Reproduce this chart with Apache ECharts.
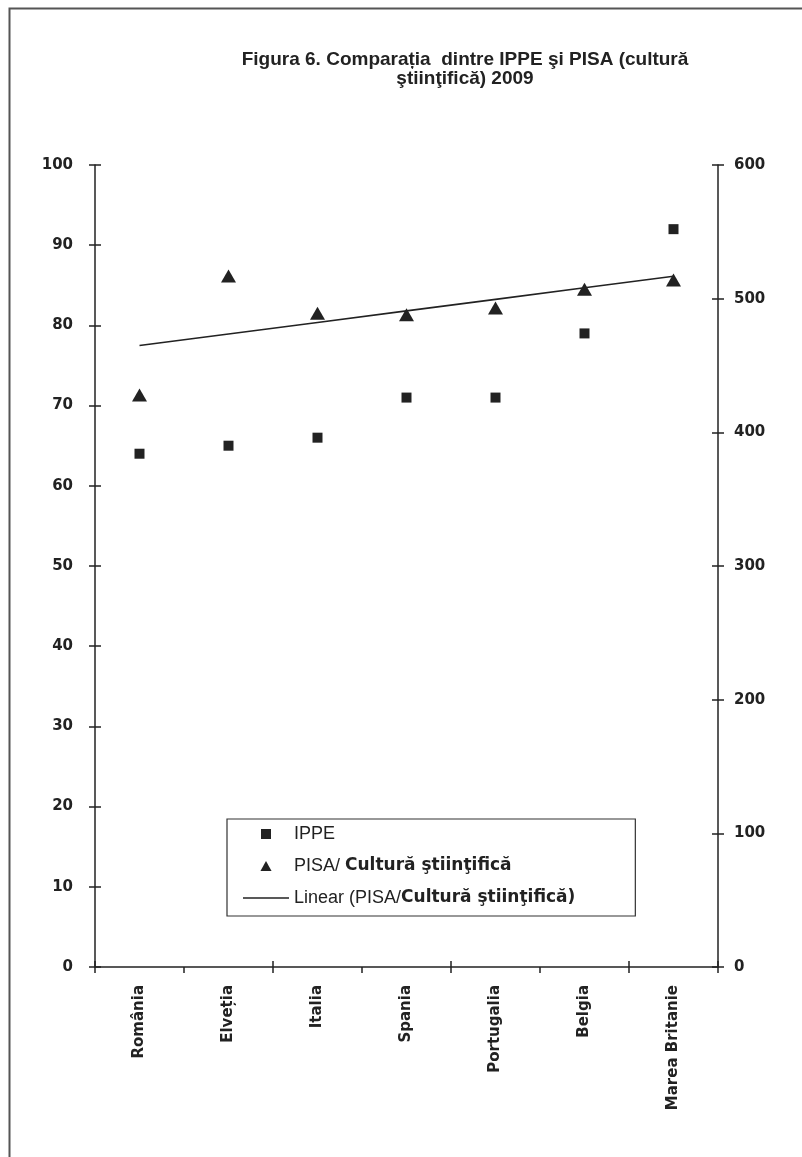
<!DOCTYPE html>
<html>
<head>
<meta charset="utf-8">
<script src="https://cdn.jsdelivr.net/npm/echarts@6/dist/echarts.min.js"></script>
<style>html,body{margin:0;padding:0;background:#fff;}#c{width:802px;height:1157px;}</style>
</head>
<body>
<div id="c"></div>
<script>
// ---- data ----
const categories = ['România', 'Elveția', 'Italia', 'Spania', 'Portugalia', 'Belgia', 'Marea Britanie'];
const ippe = [64, 65, 66, 71, 71, 79, 92];               // left axis
const pisaScience = [428, 517, 489, 488, 493, 507, 514]; // right axis
const leftTicks = {min: 0, max: 100, interval: 10};
const rightTicks = {min: 0, max: 600, interval: 100};

// least-squares linear trendline of the PISA series (Excel "Linear" trendline)
function linearTrend(vals) {
  const n = vals.length;
  let sx = 0, sy = 0, sxy = 0, sxx = 0;
  vals.forEach((v, i) => { const x = i + 1; sx += x; sy += v; sxy += x * v; sxx += x * x; });
  const b = (n * sxy - sx * sy) / (n * sxx - sx * sx);
  const a = (sy - b * sx) / n;
  return vals.map((v, i) => +(a + b * (i + 1)).toFixed(2));
}
const trend = linearTrend(pisaScience);

const INK = '#222';
const FONT = 'DejaVu Sans';
const chart = echarts.init(document.getElementById('c'), null, {renderer: 'canvas'});

const yLabel = {color: INK, fontFamily: FONT, fontWeight: 'bold', fontSize: 15};

chart.setOption({
  animation: false,
  backgroundColor: '#fff',
  graphic: [{
    type: 'rect', left: 7, top: 6, shape: {width: 830, height: 1200},
    style: {fill: 'none', stroke: '#555', lineWidth: 2}, silent: true
  }],
  title: {
    text: 'Figura 6. Comparația  dintre IPPE şi PISA (cultură\nştiinţifică) 2009',
    left: 460, top: 45,
    textAlign: 'center',
    textStyle: {fontFamily: 'Liberation Sans', fontWeight: 'bold', fontSize: 19, color: INK, lineHeight: 19}
  },
  grid: {left: 95, right: 84, top: 165, bottom: 190, containLabel: false},
  legend: {
    orient: 'vertical', left: 227, top: 819,
    padding: [5, 60, 8, 16],
    itemGap: 12,
    itemWidth: 46, itemHeight: 10,
    borderColor: '#333', borderWidth: 1.2,
    symbolKeepAspect: true,
    textStyle: {
      color: INK, fontFamily: 'Liberation Sans', fontSize: 18, lineHeight: 20,
      rich: {
        r: {fontFamily: 'Liberation Sans', fontSize: 18, color: INK, lineHeight: 20},
        b: {fontFamily: 'DejaVu Sans', fontWeight: 'bold', fontSize: 17, color: INK, lineHeight: 20}
      }
    },
    formatter: function (name) {
      if (name === 'IPPE') return '{r|IPPE}';
      if (name === 'PISA/ Cultură ştiinţifică') return '{r|PISA/ }{b|Cultură ştiinţifică}';
      return '{r|Linear (PISA/}{b|Cultură ştiinţifică)}';
    },
    data: [
      {name: 'IPPE', icon: 'path://M0,0L10,0L10,10L0,10Z'},
      {name: 'PISA/ Cultură ştiinţifică', icon: 'path://M5,0L10,9L0,9Z'},
      {name: 'Linear (PISA/Cultură ştiinţifică)', icon: 'path://M0,0L46,0L46,1.6L0,1.6Z'}
    ]
  },
  xAxis: [{
    type: 'category', data: categories, boundaryGap: true, position: 'bottom',
    axisLine: {show: true, lineStyle: {color: INK, width: 1.5}},
    axisTick: {show: true, inside: false, length: 6, alignWithLabel: false, lineStyle: {color: INK, width: 1.5}},
    axisLabel: {rotate: 90, margin: 18, color: INK, fontFamily: FONT, fontWeight: 'bold', fontSize: 15, interval: 0},
    splitLine: {show: false}
  }, {
    type: 'category', data: categories, boundaryGap: true, position: 'bottom',
    axisLine: {show: false},
    axisTick: {show: true, inside: true, length: 6, alignWithLabel: false, lineStyle: {color: INK, width: 1.5}},
    axisLabel: {show: false}, splitLine: {show: false}
  }],
  yAxis: [{
    type: 'value', position: 'left', min: leftTicks.min, max: leftTicks.max, interval: leftTicks.interval,
    axisLine: {show: true, lineStyle: {color: INK, width: 1.5}},
    axisTick: {show: true, length: 6, lineStyle: {color: INK, width: 1.5}},
    axisLabel: Object.assign({margin: 22}, yLabel),
    splitLine: {show: false}
  }, {
    type: 'value', position: 'right', min: rightTicks.min, max: rightTicks.max, interval: rightTicks.interval,
    axisLine: {show: true, lineStyle: {color: INK, width: 1.5}},
    axisTick: {show: true, length: 6, lineStyle: {color: INK, width: 1.5}},
    axisLabel: Object.assign({margin: 16}, yLabel),
    splitLine: {show: false}
  }, {
    type: 'value', position: 'left', min: leftTicks.min, max: leftTicks.max, interval: leftTicks.interval,
    axisLine: {show: false}, axisTick: {show: true, inside: true, length: 6, lineStyle: {color: INK, width: 1.5}},
    axisLabel: {show: false}, splitLine: {show: false}
  }, {
    type: 'value', position: 'right', min: rightTicks.min, max: rightTicks.max, interval: rightTicks.interval,
    axisLine: {show: false}, axisTick: {show: true, inside: true, length: 6, lineStyle: {color: INK, width: 1.5}},
    axisLabel: {show: false}, splitLine: {show: false}
  }],
  series: [{
    name: 'IPPE', type: 'scatter', yAxisIndex: 0, data: ippe,
    symbol: 'rect', symbolSize: 10, itemStyle: {color: INK, opacity: 1}, z: 4
  }, {
    name: 'PISA/ Cultură ştiinţifică', type: 'scatter', yAxisIndex: 1, data: pisaScience,
    symbol: 'triangle', symbolSize: [15, 13], itemStyle: {color: INK, opacity: 1}, z: 4
  }, {
    name: 'Linear (PISA/Cultură ştiinţifică)', type: 'line', yAxisIndex: 1, data: trend,
    symbol: 'none', showSymbol: false, lineStyle: {color: INK, width: 1.6}, itemStyle: {color: INK}, z: 3
  }]
});
</script>
</body>
</html>
